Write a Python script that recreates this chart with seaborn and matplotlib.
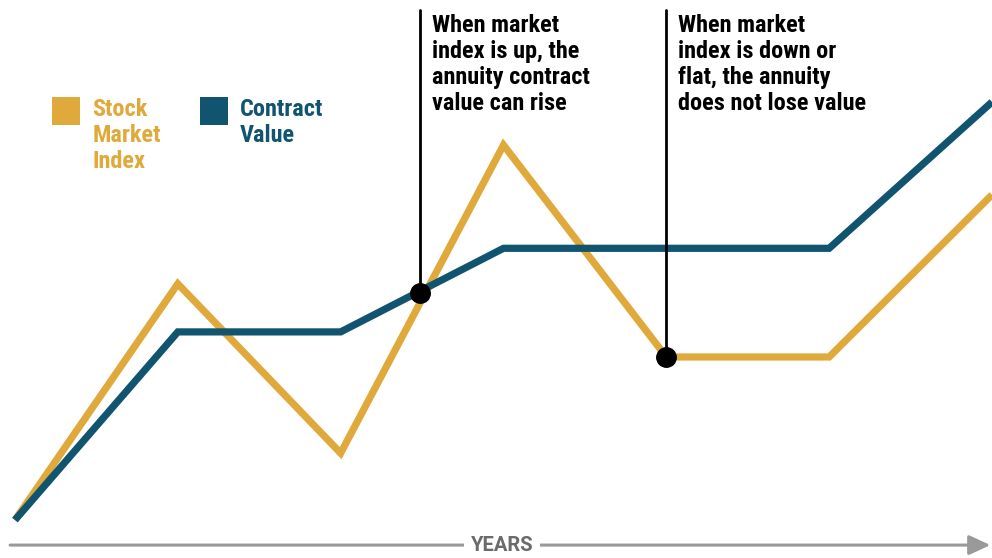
import numpy as np
import pandas as pd
import matplotlib.pyplot as plt
import seaborn as sns
from matplotlib import font_manager

# data
years = [0, 1, 2, 3, 4, 5, 6]
stock_index = [0, 56.5, 16, 89.7, 39, 39, 77.8]
contract_value = [0, 45, 45, 65, 65, 65, 100]

callout_x = [2.49, 4]
callout_y = [54.3, 39]
callout_text = ["When market\nindex is up, the\nannuity contract\nvalue can rise",
                "When market\nindex is down or\nflat, the annuity\ndoes not lose value"]

gold = "#E0A93B"
blue = "#11546F"

sns.set_style("white")
names = {f.name for f in font_manager.fontManager.ttflist}
narrow = [n for n in ['Roboto Condensed', 'Liberation Sans Narrow'] if n in names]
plt.rcParams['font.family'] = narrow + ['DejaVu Sans']
plt.rcParams['font.weight'] = 'bold'

df = pd.DataFrame({"year": years, "Stock Market Index": stock_index,
                   "Contract Value": contract_value})

fig = plt.figure(figsize=(9.92, 5.58), dpi=100)
ax = fig.add_axes([0, 0, 1, 1])

sns.lineplot(data=df, x="year", y="Stock Market Index", color=gold,
             linewidth=5.2, ax=ax, zorder=2)
sns.lineplot(data=df, x="year", y="Contract Value", color=blue,
             linewidth=5.2, ax=ax, zorder=3)
for l in ax.lines:
    l.set_solid_capstyle("butt")
    l.set_solid_joinstyle("miter")

# callouts
for cx, cy, txt in zip(callout_x, callout_y, callout_text):
    ax.plot([cx, cx], [cy, 122], color="black", linewidth=2, zorder=4)
    ax.plot(cx, cy, "o", color="black", markersize=14, zorder=5)
    ax.text(cx + 0.072, 121.0, txt, fontsize=17.5, fontweight="bold",
            va="top", ha="left", linespacing=1.17, color="black")

# legend
ax.add_patch(plt.Rectangle((0.225, 94.5), 0.172, 6.7, color=gold, lw=0))
ax.add_patch(plt.Rectangle((1.136, 94.5), 0.172, 6.7, color=blue, lw=0))
ax.text(0.476, 100.9, "Stock\nMarket\nIndex", color=gold, fontsize=17.5,
        fontweight="bold", va="top", linespacing=1.17)
ax.text(1.38, 100.9, "Contract\nValue", color=blue, fontsize=17.5,
        fontweight="bold", va="top", linespacing=1.17)

# years axis arrow
ax.annotate("", xy=(5.99, -6), xytext=(-0.03, -6),
            arrowprops=dict(arrowstyle="-|>,head_length=1.3,head_width=0.6",
                            color="#999999", lw=2.2, shrinkA=0, shrinkB=0))
ax.text(2.99, -6, "YEARS", color="#6b6b6b", fontsize=14.5, fontweight="bold",
        family=["Roboto", "DejaVu Sans"], ha="center", va="center",
        bbox=dict(facecolor="white", edgecolor="none", pad=5))

ax.set_xlim(-0.092, 6.0)
ax.set_ylim(-9.09, 124.4)
ax.axis("off")

fig.savefig("out.png", dpi=100)
